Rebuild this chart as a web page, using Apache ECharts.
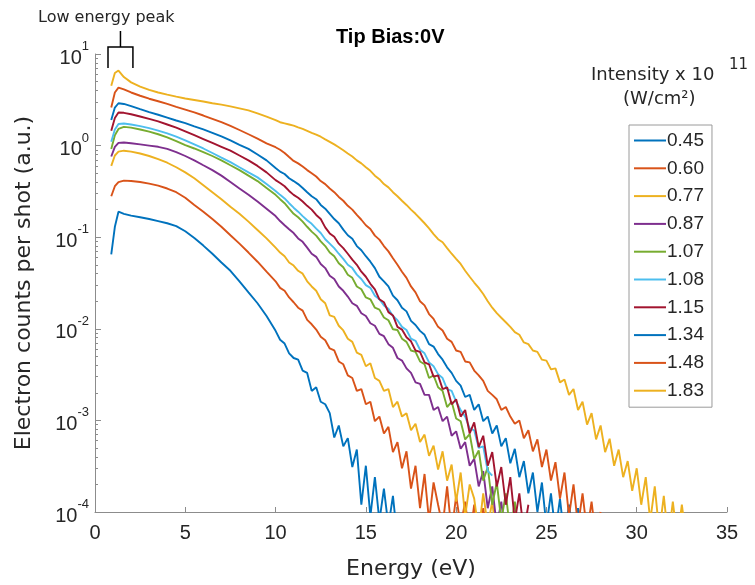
<!DOCTYPE html>
<html>
<head>
<meta charset="utf-8">
<script src="https://cdn.jsdelivr.net/npm/echarts@6/dist/echarts.min.js"></script>
<style>html,body{margin:0;padding:0;background:#fff}#c{width:755px;height:585px}</style>
</head>
<body>
<div id="c"></div>
<script>
// Energy grid (eV)
const energy = [0.9,1.1,1.3,1.6,2,2.5,3,3.5,4,4.5,5,5.5,6,6.5,7,7.5,8,8.5,9,9.5,10,
10.25,10.5,10.75,11,11.25,11.5,11.75,12,12.25,12.5,12.75,13,13.25,13.5,13.75,14,14.25,14.5,14.75,15,
15.25,15.5,15.75,16,16.25,16.5,16.75,17,17.25,17.5,17.75,18,18.25,18.5,18.75,19,19.25,19.5,19.75,20,
20.25,20.5,20.75,21,21.25,21.5,21.75,22,22.25,22.5,22.75,23,23.25,23.5,23.75,24,24.25,24.5,24.75,25,
25.25,25.5,25.75,26,26.25,26.5,26.75,27,27.25,27.5,27.75,28,28.25,28.5,28.75,29,29.25,29.5,29.75,30,
30.25,30.5,30.75,31,31.25,31.5,31.75,32,32.25,32.5,32.75];

const seriesNames = ['0.45','0.60','0.77','0.87','1.07','1.08','1.15','1.34','1.48','1.83'];
const seriesColors = ['#0072BD','#D95319','#EDB120','#7E2F8E','#77AC30','#4DBEEE','#A2142F','#0072BD','#D95319','#EDB120'];

const s045 = [0.065,0.13,0.19,0.18,0.172,0.165,0.158,0.15,0.142,0.132,0.116,0.098,0.081,0.066,0.053,0.043,0.033,0.025,0.019,0.0138,0.0095,
0.0076,0.0069,0.0054,0.0048,0.0046,0.0035,0.0033,0.0021,0.0023,0.0016,0.0015,0.0012,0.00065,0.00088,0.00052,0.00064,0.00031,0.00048,0.00012,0.00032,0.00009,0.00024,0.00008,0.00018,0.00007,0.00015,0.00005];

const s060 = [0.28,0.36,0.40,0.415,0.41,0.40,0.385,0.365,0.34,0.31,0.27,0.225,0.19,0.158,0.13,0.105,0.085,0.068,0.054,0.042,0.033,
0.028,0.026,0.022,0.0195,0.017,0.0158,0.0125,0.0112,0.0098,0.0082,0.0075,0.0061,0.0058,0.0044,0.0041,0.0031,0.0029,0.0021,0.0022,0.0015,
0.0016,0.00098,0.0011,0.00072,0.00085,0.00045,0.00058,0.0003,0.00046,0.00018,0.00032,0.00011,0.00026,0.00008,0.00021,0.00012,0.00007,0.00019,0.00006,0.00015,
0.00007,0.00013,0.00005,0.00012,0.00006,0.00011,0.00005];

const s077 = [0.6,0.78,0.86,0.88,0.86,0.82,0.77,0.71,0.65,0.58,0.51,0.44,0.37,0.31,0.26,0.215,0.18,0.148,0.12,0.097,0.077,
0.068,0.062,0.053,0.049,0.043,0.040,0.033,0.029,0.026,0.021,0.019,0.014,0.0135,0.0108,0.0096,0.0078,0.0072,0.0055,0.0052,0.0039,
0.0042,0.0029,0.0027,0.0021,0.0022,0.0014,0.0016,0.0011,0.0012,0.00078,0.00092,0.00058,0.0007,0.00041,0.00053,0.00029,0.00046,0.00022,0.00033,0.00013,
0.00027,0.00009,0.0002,0.00014,0.00006,0.00016,0.00007,0.00013,0.00005];

const s087 = [0.76,0.97,1.07,1.08,1.06,1.03,1.0,0.97,0.92,0.85,0.77,0.69,0.61,0.54,0.47,0.40,0.34,0.29,0.245,0.205,0.17,
0.15,0.135,0.122,0.111,0.097,0.089,0.077,0.066,0.061,0.051,0.046,0.038,0.035,0.029,0.026,0.0225,0.019,0.0178,0.0148,0.0138,
0.0115,0.0108,0.0088,0.0083,0.0068,0.0062,0.0048,0.0045,0.0037,0.0033,0.0026,0.0025,0.0019,0.0019,0.0013,0.0014,0.00098,0.0011,0.00068,0.00076,
0.00049,0.00058,0.00032,0.00038,0.00019,0.00028,0.00011,0.00019,0.00007,0.00013,0.00005];

const s107 = [0.92,1.3,1.52,1.6,1.57,1.5,1.42,1.33,1.23,1.12,1.01,0.93,0.85,0.77,0.69,0.61,0.54,0.47,0.41,0.345,0.29,
0.26,0.235,0.205,0.18,0.165,0.148,0.13,0.115,0.104,0.09,0.08,0.068,0.062,0.052,0.047,0.039,0.036,0.029,0.027,0.022,
0.021,0.017,0.0162,0.0133,0.0124,0.0099,0.0097,0.0078,0.0072,0.0058,0.0056,0.0044,0.0041,0.0029,0.0031,0.0023,0.0021,0.0014,0.0016,0.00105,
0.00098,0.00062,0.00071,0.00038,0.00047,0.00022,0.00031,0.00012,0.00021,0.00008,0.00016,0.00006,0.00013,0.00005];

const s108 = [1.1,1.5,1.72,1.74,1.7,1.63,1.55,1.46,1.36,1.25,1.14,1.03,0.93,0.83,0.74,0.66,0.58,0.51,0.45,0.38,0.32,
0.29,0.265,0.235,0.21,0.19,0.17,0.153,0.14,0.124,0.111,0.095,0.085,0.076,0.066,0.058,0.05,0.046,0.039,0.035,0.03,
0.028,0.023,0.021,0.018,0.0165,0.0138,0.0124,0.0105,0.0097,0.0078,0.0074,0.0059,0.0054,0.0043,0.0039,0.0032,0.0029,0.0022,0.0021,0.0016,
0.0013,0.0011,0.00082,0.00078,0.0005,0.00052,0.00028,0.00025];

const s115 = [1.45,2.0,2.3,2.28,2.2,2.08,1.96,1.84,1.7,1.57,1.43,1.3,1.18,1.07,0.97,0.88,0.78,0.69,0.6,0.51,0.42,
0.39,0.36,0.32,0.29,0.27,0.245,0.22,0.2,0.175,0.158,0.128,0.11,0.101,0.085,0.076,0.066,0.057,0.05,0.042,0.037,
0.031,0.027,0.021,0.0195,0.0152,0.014,0.0105,0.0098,0.0081,0.0073,0.0058,0.0056,0.0043,0.0041,0.003,0.0031,0.0022,0.0023,0.0015,0.0017,
0.0011,0.0013,0.00072,0.00095,0.00051,0.00068,0.00032,0.00045,0.00019,0.00031,0.00012,0.00024,0.00008,0.00016,0.00006,0.00012];

const s134 = [1.9,2.6,2.9,2.85,2.7,2.5,2.32,2.17,2.02,1.88,1.76,1.62,1.5,1.38,1.26,1.14,1.02,0.92,0.8,0.69,0.57,
0.52,0.49,0.44,0.41,0.38,0.345,0.31,0.28,0.26,0.225,0.205,0.18,0.158,0.142,0.121,0.105,0.096,0.08,0.072,0.062,
0.054,0.046,0.037,0.033,0.029,0.023,0.0205,0.017,0.0155,0.0122,0.011,0.0095,0.0086,0.0068,0.0064,0.0053,0.0046,0.0038,0.0033,0.0027,
0.0024,0.0018,0.0019,0.0013,0.0015,0.00098,0.0011,0.00072,0.00088,0.00052,0.00064,0.00034,0.00049,0.00024,0.00036,0.00016,
0.00027,0.0001,0.00021,0.00007,0.00016,0.00006,0.00014,0.00005,0.00012,0.00005,0.00011,0.00005];

const s148 = [2.6,3.8,4.3,4.1,3.8,3.5,3.25,3.05,2.85,2.65,2.47,2.3,2.13,1.96,1.8,1.64,1.48,1.33,1.19,1.06,0.96,
0.9,0.83,0.75,0.68,0.64,0.59,0.54,0.5,0.46,0.41,0.38,0.34,0.31,0.275,0.25,0.22,0.2,0.175,0.155,0.135,
0.123,0.104,0.094,0.08,0.07,0.059,0.05,0.042,0.036,0.029,0.025,0.02,0.018,0.0145,0.0128,0.0105,0.0096,0.0078,0.0072,0.0058,
0.0056,0.0044,0.0043,0.0035,0.0031,0.0027,0.0021,0.0019,0.0017,0.0013,0.0014,0.0011,0.00092,0.001,0.00064,0.00078,
0.00046,0.00062,0.00031,0.00048,0.00022,0.00035,0.00014,0.00027,0.00009,0.0002,0.00007,0.00016,0.00006,0.00013,0.00005,0.0001];

const s183 = [4.5,6.2,6.6,5.6,4.9,4.4,4.05,3.8,3.6,3.42,3.27,3.15,3.03,2.9,2.8,2.68,2.55,2.42,2.25,2.07,1.9,
1.8,1.75,1.7,1.65,1.58,1.52,1.45,1.38,1.32,1.25,1.17,1.1,1.03,0.96,0.89,0.82,0.76,0.69,0.64,0.58,
0.53,0.47,0.43,0.38,0.35,0.31,0.28,0.25,0.225,0.2,0.18,0.16,0.142,0.125,0.108,0.095,0.088,0.076,0.066,0.058,
0.051,0.043,0.037,0.032,0.028,0.024,0.020,0.017,0.0148,0.0132,0.0118,0.0105,0.0092,0.0086,0.0071,0.0068,
0.0058,0.0056,0.0046,0.0045,0.0036,0.0037,0.0026,0.0028,0.0019,0.0022,0.0013,0.0016,0.0009,0.0012,0.00062,0.00088,
0.00045,0.00063,0.00032,0.00048,0.00024,0.00036,0.00017,0.0003,0.00012,0.00024,0.00008,0.00019,0.00006,0.00015,0.00005,0.00013,
0.00005,0.00012,0.00005];

const seriesValues = [s045,s060,s077,s087,s107,s108,s115,s134,s148,s183];

const xTicks = [0,5,10,15,20,25,30,35];

const chart = echarts.init(document.getElementById('c'), null, {renderer:'canvas'});

const minorTicks = [];
for (let k = -4; k <= 0; k++) for (let m = 2; m <= 9; m++) minorTicks.push(+(m * Math.pow(10, k)).toPrecision(3));

const axisGray = '#8c8c8c';
const textCol = '#262626';

const series = seriesValues.map((vals, i) => ({
  name: seriesNames[i],
  type: 'line',
  xAxisIndex: 0,
  yAxisIndex: 0,
  data: vals.map((v, j) => [energy[j], v]),
  showSymbol: false,
  symbol: 'none',
  clip: true,
  lineStyle: {width: 1.9, color: seriesColors[i]},
  itemStyle: {color: seriesColors[i]},
  emphasis: {disabled: true},
  z: 2
}));

chart.setOption({
  animation: false,
  backgroundColor: '#fff',
  grid: {left: 95, right: 28, top: 54, bottom: 72, containLabel: false},
  title: {
    text: 'Tip Bias:0V', left: 331, top: 22,
    textStyle: {fontFamily: 'Liberation Sans', fontWeight: 'bold', fontSize: 20, color: '#000'}
  },
  legend: {
    data: seriesNames,
    orient: 'vertical',
    left: 629, top: 125,
    padding: [6, 8, 7, 5],
    itemGap: 8.8,
    itemWidth: 32, itemHeight: 2,
    icon: 'rect',
    borderColor: '#9a9a9a', borderWidth: 1,
    backgroundColor: '#fff',
    textStyle: {fontFamily: 'Liberation Sans', fontSize: 19, color: textCol, padding: [0,0,0,-4]},
    selectedMode: false
  },
  xAxis: {
    type: 'value', min: 0, max: 35, interval: 5,
    name: 'Energy (eV)', nameLocation: 'middle', nameGap: 46,
    nameTextStyle: {fontFamily: 'DejaVu Sans', fontSize: 22, color: textCol},
    axisLine: {show: true, lineStyle: {color: axisGray, width: 1}},
    axisTick: {show: true, inside: true, length: 5, lineStyle: {color: axisGray}},
    axisLabel: {fontFamily: 'Liberation Sans', fontSize: 20, color: textCol, margin: 11,
      formatter: v => xTicks.includes(v) ? String(v) : ''},
    splitLine: {show: false}
  },
  yAxis: [{
    type: 'log', logBase: 10, min: 1e-4, max: 10,
    name: 'Electron counts per shot (a.u.)', nameLocation: 'middle', nameGap: 60,
    nameTextStyle: {fontFamily: 'DejaVu Sans', fontSize: 22, color: textCol},
    axisLine: {show: true, lineStyle: {color: axisGray, width: 1}},
    axisTick: {show: true, inside: true, length: 6, lineStyle: {color: axisGray}},
    axisLabel: {
      margin: 6,
      formatter: v => '{b|10}{s|' + Math.round(Math.log10(v)) + '}',
      rich: {
        b: {fontFamily: 'Liberation Sans', fontSize: 20, color: textCol, lineHeight: 28, verticalAlign: 'bottom'},
        s: {fontFamily: 'Liberation Sans', fontSize: 13, color: textCol, lineHeight: 28, verticalAlign: 'top'}
      }
    },
    splitLine: {show: false}
  }, {
    type: 'log', logBase: 10, min: 1e-4, max: 10, position: 'left',
    axisLine: {show: false},
    axisLabel: {show: false},
    axisTick: {show: true, inside: true, length: 3, customValues: minorTicks, lineStyle: {color: axisGray}},
    splitLine: {show: false}
  }],
  series: series
});

// annotations: "Low energy peak" bracket and the intensity header
const xL = chart.convertToPixel({xAxisIndex: 0}, 0.72);
const xR = chart.convertToPixel({xAxisIndex: 0}, 2.1);
const yTop = chart.convertToPixel({yAxisIndex: 0}, 10);
const xM = (xL + xR) / 2;
chart.setOption({
  graphic: [
    {type: 'polyline', shape: {points: [[xL, yTop + 14], [xL, yTop - 7], [xR, yTop - 7], [xR, yTop + 14]]},
      style: {stroke: '#000', lineWidth: 1.5, fill: null}, z: 10},
    {type: 'line', shape: {x1: xM, y1: yTop - 7, x2: xM, y2: yTop - 23}, style: {stroke: '#000', lineWidth: 1.5}, z: 10},
    {type: 'text', left: 38, top: 10, style: {text: 'Low energy peak', fontFamily: 'DejaVu Sans', fontSize: 16, fill: textCol}, z: 10},
    {type: 'text', left: 591, top: 66, style: {text: 'Intensity x 10', fontFamily: 'DejaVu Sans', fontSize: 18, fill: textCol}, z: 10},
    {type: 'text', left: 729, top: 58, style: {text: '11', fontFamily: 'DejaVu Sans', fontSize: 15, fill: textCol}, z: 10},
    {type: 'text', left: 623, top: 90, style: {text: '(W/cm\u00B2)', fontFamily: 'DejaVu Sans', fontSize: 18, fill: textCol}, z: 10}
  ]
});
</script>
</body>
</html>
